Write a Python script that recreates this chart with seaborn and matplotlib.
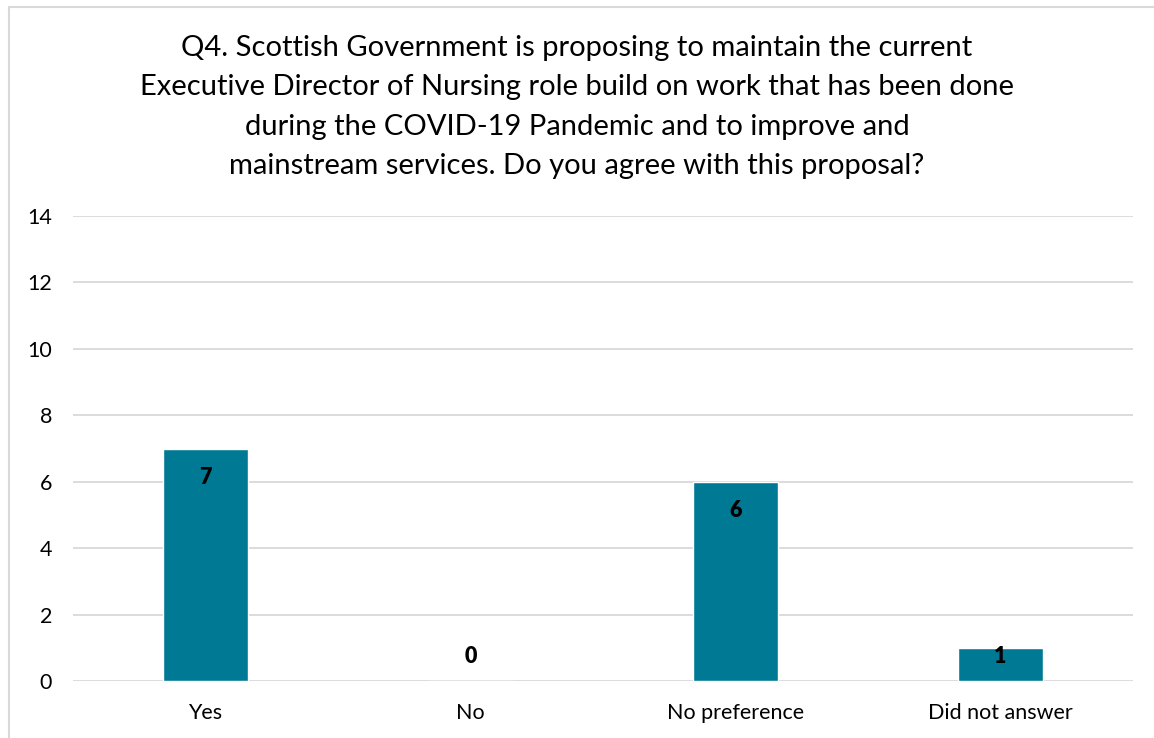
import matplotlib
matplotlib.use('Agg')
import matplotlib.pyplot as plt
import seaborn as sns
import pandas as pd
from matplotlib.patches import Rectangle

# data
categories = ['Yes', 'No', 'No preference', 'Did not answer']
counts = [7, 0, 6, 1]
yticks = [0, 2, 4, 6, 8, 10, 12, 14]

title = ('Q4. Scottish Government is proposing to maintain the current\n'
         'Executive Director of Nursing role build on work that has been done\n'
         'during the COVID-19 Pandemic and to improve and\n'
         'mainstream services. Do you agree with this proposal?')

df = pd.DataFrame({'answer': categories, 'count': counts})

sns.set_style('white')
plt.rcParams['font.family'] = ['Lato', 'DejaVu Sans']

fig = plt.figure(figsize=(11.54, 7.38), dpi=100)

# light grey chart border (cut off at right and bottom in the original)
fig.patches.append(Rectangle((9 / 1154, -0.05), 1.2, 1.05 - 7 / 738, transform=fig.transFigure,
                             fill=False, edgecolor='#D9D9D9', linewidth=1.5))

ax = fig.add_axes([73 / 1154, 1 - 681 / 738, 1060 / 1154, 465 / 738])

sns.barplot(data=df, x='answer', y='count', color='#007A94', saturation=1,
            width=0.317, ax=ax, zorder=3)

ax.set_ylim(0, 14)
ax.set_yticks(yticks)
ax.set_xlim(-0.5, len(categories) - 0.5)
ax.yaxis.grid(True, color='#D9D9D9', linewidth=1.3, zorder=0)
ax.xaxis.grid(False)
for s in ax.spines.values():
    s.set_visible(False)
ax.tick_params(axis='both', length=0, labelsize=15.5, colors='black')
ax.tick_params(axis='y', pad=15)
ax.tick_params(axis='x', pad=16)
ax.set_xlabel('')
ax.set_ylabel('')

for i, v in enumerate(counts):
    ax.text(i, max(v - 0.87, 0.75), str(v), ha='center', va='center',
            fontsize=15.5, fontweight='heavy', color='black', zorder=4)

fig.text(0.5, 1 - 107 / 738, title, ha='center', va='center', fontsize=21,
         linespacing=1.63, color='black')

fig.savefig('out.png', dpi=100)
